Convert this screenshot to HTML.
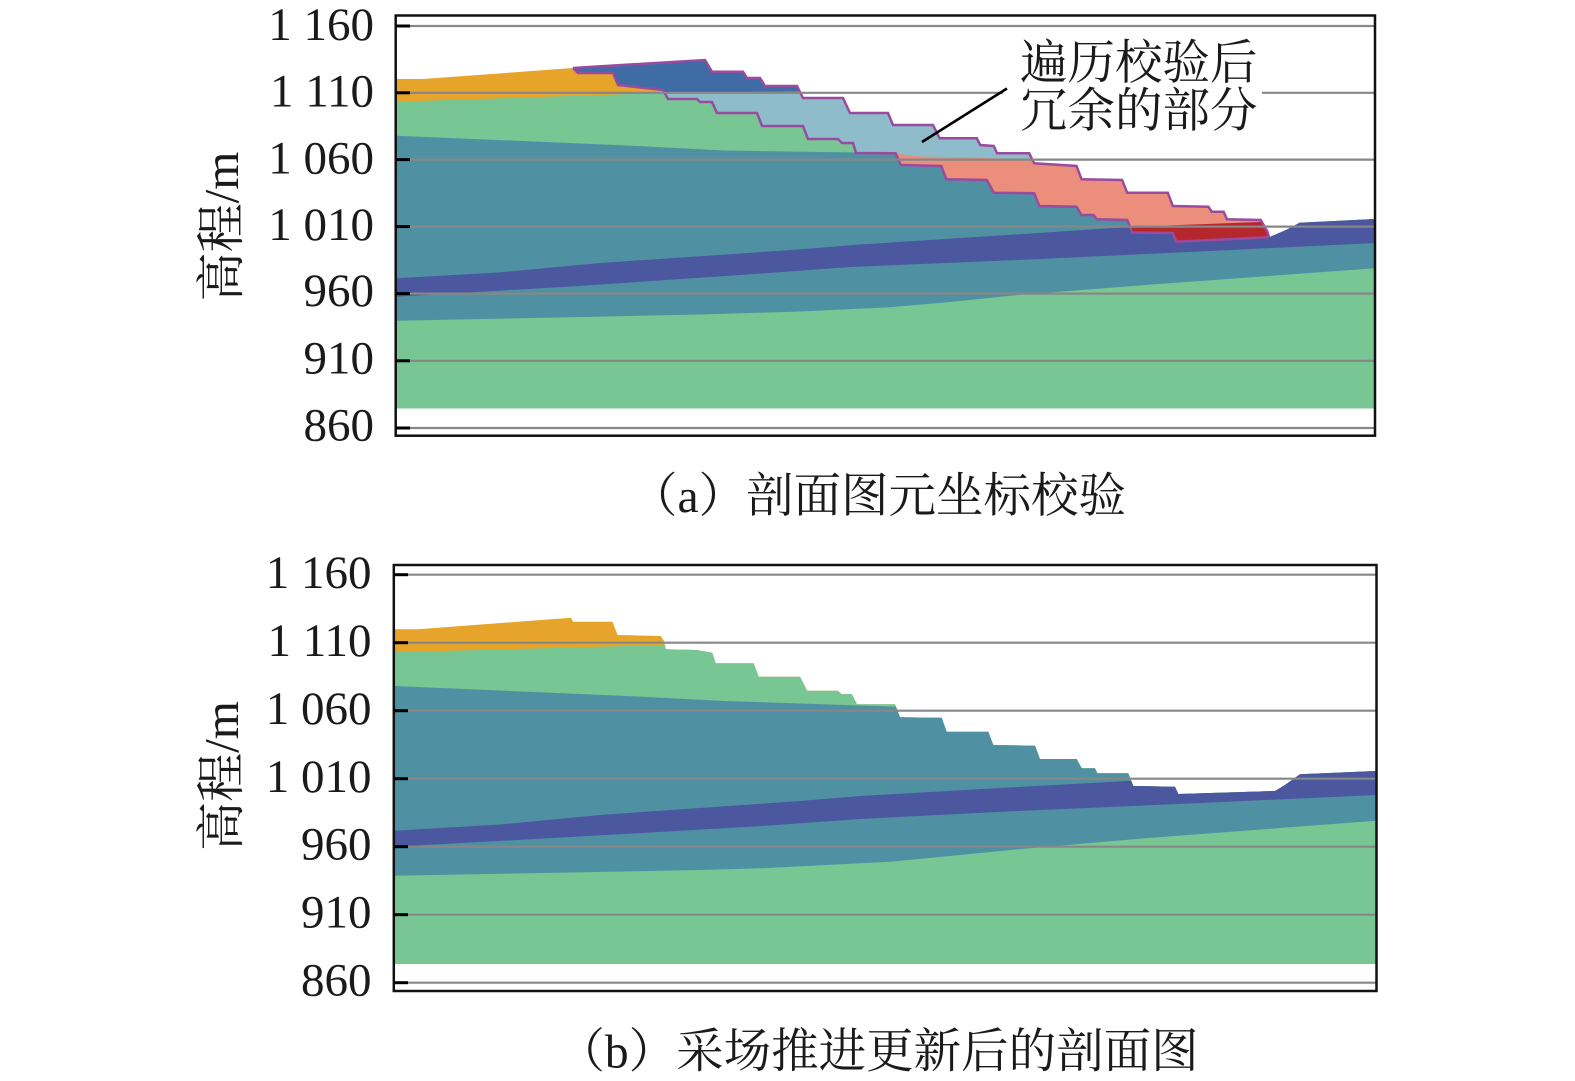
<!DOCTYPE html>
<html><head><meta charset="utf-8"><style>html,body{margin:0;padding:0;background:#fff;}svg{display:block}</style></head>
<body>
<svg width="1575" height="1081" viewBox="0 0 1575 1081" xmlns="http://www.w3.org/2000/svg">
<defs>
<clipPath id="cT"><polygon points="396,79 423,79 573,68 578,73 613,73 618,85 663,90 668,99 697,99 700,102 712,102 717,113 757,113 762,126 803,126 808,139 838,139 842,143 853,143 856,153 895.6,153.3 900.7,165 941.3,166 946.3,179.3 986.9,180 993.7,192.7 1034.2,193.3 1039.3,206 1076.5,206.7 1081.6,215 1093.4,215 1096.8,219.3 1127.2,220 1132.3,232.5 1172.8,233 1176.2,241.7 1269,237.3 1286,230 1299.6,222.7 1375,219 1375,408.5 396,408.5"/></clipPath>
<clipPath id="cR"><polygon points="573,68 705,60 712,71.7 743,71.7 747,78 760,78 765,86 797,86 803,98 843,98 850,113 888,113 893,125 933,125 939.6,138.3 976.8,138.3 980.2,145 993.7,146 997.1,153.3 1029.2,153.3 1034.2,163.3 1076.5,166 1081.6,179.3 1122.1,180 1127.2,192.7 1167.8,192.7 1172.8,206 1208.4,206.7 1211.7,211.7 1223.6,211.7 1227,219.3 1260.7,220 1267.5,231.7 1269,237.3 1176.2,241.7 1172.8,233 1132.3,232.5 1127.2,220 1096.8,219.3 1093.4,215 1081.6,215 1076.5,206.7 1039.3,206 1034.2,193.3 993.7,192.7 986.9,180 946.3,179.3 941.3,166 900.7,165 895.6,153.3 856,153 853,143 842,143 838,139 808,139 803,126 762,126 757,113 717,113 712,102 700,102 697,99 668,99 663,90 618,85 613,73 578,73"/></clipPath>
<clipPath id="cB"><polygon points="394,629.3 418,629.3 571,617.7 573,621.7 612.4,621.7 617.6,635 660.6,636 664,640.7 665.8,649.3 696.8,650 712.3,652.7 715.7,663.3 753.6,663.3 758.8,676.7 800.1,676.7 807.2,690.7 838,690.7 841.6,694 851.8,694 857,704.3 895,704.3 900,717.3 941.7,717.7 946.7,731.7 988.3,731.7 993.3,745 1035,745.7 1040,759 1076.7,759 1081.7,768.3 1095,768.3 1097.3,773.3 1128.3,773.3 1133.3,786 1175,786.7 1178.3,794 1275,791 1285,785 1300,774.3 1376,771 1376,964 394,964"/></clipPath>
</defs>

<!-- TOP CHART -->
<g clip-path="url(#cT)">
<rect x="396" y="0" width="979" height="409" fill="#E6A52A"/>
<polygon fill="#78C694" points="396,101.7 662,93 800,91.5 1375,88 1375,409 396,409"/>
<polygon fill="#4F91A2" points="396,135.7 621,145.2 724,150.5 857,152.5 895,153.5 920,156.5 1030,159 1375,165 1375,409 396,409"/>
<polygon fill="#4B579E" points="396,278.3 500,272.4 600,263 700,256.3 800,249.4 860,244.5 1000,235.5 1128,227 1260,222 1375,217.5 1375,409 396,409"/>
<polygon fill="#4F91A2" points="396,296.7 571,286.5 762,273.5 850,267 1018,260 1200,251.5 1375,243 1375,409 396,409"/>
<polygon fill="#78C694" points="396,320.7 571,317.3 700,314.5 795,311.7 890,307.3 950,302 1018,295 1145,285 1375,268.3 1375,409 396,409"/>
</g>
<g clip-path="url(#cR)">
<rect x="396" y="0" width="979" height="409" fill="#3F6CA5"/>
<polygon fill="#8EBCCA" points="396,101.7 662,93 800,91.5 1375,88 1375,409 396,409"/>
<polygon fill="#EB8E7C" points="396,135.7 621,145.2 724,150.5 857,152.5 895,153.5 920,156.5 1030,159 1375,165 1375,409 396,409"/>
<polygon fill="#B5272D" points="396,278.3 500,272.4 600,263 700,256.3 800,249.4 860,244.5 1000,235.5 1128,227 1260,222 1375,217.5 1375,409 396,409"/>
</g>
<g fill="none" stroke="#9B4B9F" stroke-width="2.5" stroke-linejoin="miter">
<polyline points="573,68 705,60 712,71.7 743,71.7 747,78 760,78 765,86 797,86 803,98 843,98 850,113 888,113 893,125 933,125 939.6,138.3 976.8,138.3 980.2,145 993.7,146 997.1,153.3 1029.2,153.3 1034.2,163.3 1076.5,166 1081.6,179.3 1122.1,180 1127.2,192.7 1167.8,192.7 1172.8,206 1208.4,206.7 1211.7,211.7 1223.6,211.7 1227,219.3 1260.7,220 1267.5,231.7 1269,237.3"/>
<polyline points="573,68 578,73 613,73 618,85 663,90 668,99 697,99 700,102 712,102 717,113 757,113 762,126 803,126 808,139 838,139 842,143 853,143 856,153 895.6,153.3 900.7,165 941.3,166 946.3,179.3 986.9,180 993.7,192.7 1034.2,193.3 1039.3,206 1076.5,206.7 1081.6,215 1093.4,215 1096.8,219.3 1127.2,220 1132.3,232.5 1172.8,233 1176.2,241.7 1269,237.3"/>
</g>
<g stroke="#878787" stroke-width="2.2">
<line x1="396" y1="26" x2="1375" y2="26"/>
<line x1="396" y1="92.8" x2="1375" y2="92.8"/>
<line x1="396" y1="159.6" x2="1375" y2="159.6"/>
<line x1="396" y1="226.6" x2="1375" y2="226.6"/>
<line x1="396" y1="293.6" x2="1375" y2="293.6"/>
<line x1="396" y1="360.8" x2="1375" y2="360.8"/>
<line x1="396" y1="428" x2="1375" y2="428"/>
</g>
<rect x="1003" y="34" width="259" height="102" fill="#fff"/>
<g font-family="'Liberation Serif','Noto Serif CJK SC',serif" font-size="47.5" fill="#1a1a1a">
<text x="1020" y="79">遍历校验后</text>
<text x="1020" y="127">冗余的部分</text>
</g>
<line x1="922" y1="142" x2="1007" y2="88.5" stroke="#000" stroke-width="2.6"/>
<rect x="395.7" y="15.5" width="979.3" height="420.2" fill="none" stroke="#111" stroke-width="2.5"/>
<g stroke="#000" stroke-width="3">
<line x1="396" y1="26" x2="410" y2="26"/>
<line x1="396" y1="92.8" x2="410" y2="92.8"/>
<line x1="396" y1="159.6" x2="410" y2="159.6"/>
<line x1="396" y1="226.6" x2="410" y2="226.6"/>
<line x1="396" y1="293.6" x2="410" y2="293.6"/>
<line x1="396" y1="360.8" x2="410" y2="360.8"/>
<line x1="396" y1="428" x2="410" y2="428"/>
</g>
<g font-family="'Liberation Serif','Noto Serif CJK SC',serif" font-size="47" fill="#1a1a1a" text-anchor="end" word-spacing="0">
<text x="374" y="40">1 160</text>
<text x="374" y="106.7">1 110</text>
<text x="374" y="173.3">1 060</text>
<text x="374" y="240">1 010</text>
<text x="374" y="306">960</text>
<text x="374" y="373.5">910</text>
<text x="374" y="440.5">860</text>
</g>
<text transform="translate(238,226.5) rotate(-90)" text-anchor="middle" font-family="'Liberation Serif','Noto Serif CJK SC',serif" font-size="49" fill="#1a1a1a">高程/m</text>
<text x="878" y="512" text-anchor="middle" font-family="'Liberation Serif','Noto Serif CJK SC',serif" font-size="47.5" fill="#1a1a1a">（a）剖面图元坐标校验</text>

<!-- BOTTOM CHART -->
<g clip-path="url(#cB)">
<rect x="394" y="560" width="982" height="404" fill="#E6A52A"/>
<polygon fill="#78C694" points="394,652.3 662.4,645 800,643.5 1376,640 1376,964 394,964"/>
<polygon fill="#4F91A2" points="394,686 621,695.7 724.4,701 896.5,706.7 1040,710 1376,716 1376,964 394,964"/>
<polygon fill="#4B579E" points="394,830.7 500,824.5 600,815 700,808 800,801 860,796 1000,788 1128,781 1260,775 1376,769 1376,964 394,964"/>
<polygon fill="#4F91A2" points="394,846.7 571,837 762,826 860,819 1018,811 1200,803 1376,795 1376,964 394,964"/>
<polygon fill="#78C694" points="394,875.7 571,872.5 700,870 762.6,868.3 890,861.7 950,856 1017.8,849.3 1145,838.3 1376,820.7 1376,964 394,964"/>
</g>
<g stroke="#878787" stroke-width="2.2">
<line x1="394" y1="574.7" x2="1376" y2="574.7"/>
<line x1="394" y1="642.7" x2="1376" y2="642.7"/>
<line x1="394" y1="710.7" x2="1376" y2="710.7"/>
<line x1="394" y1="778.7" x2="1376" y2="778.7"/>
<line x1="394" y1="846.7" x2="1376" y2="846.7"/>
<line x1="394" y1="914.7" x2="1376" y2="914.7"/>
<line x1="394" y1="982.7" x2="1376" y2="982.7"/>
</g>
<rect x="393.8" y="565" width="982.7" height="426" fill="none" stroke="#111" stroke-width="2.5"/>
<g stroke="#000" stroke-width="3">
<line x1="394" y1="574.7" x2="408" y2="574.7"/>
<line x1="394" y1="642.7" x2="408" y2="642.7"/>
<line x1="394" y1="710.7" x2="408" y2="710.7"/>
<line x1="394" y1="778.7" x2="408" y2="778.7"/>
<line x1="394" y1="846.7" x2="408" y2="846.7"/>
<line x1="394" y1="914.7" x2="408" y2="914.7"/>
<line x1="394" y1="982.7" x2="408" y2="982.7"/>
</g>
<g font-family="'Liberation Serif','Noto Serif CJK SC',serif" font-size="47" fill="#1a1a1a" text-anchor="end" word-spacing="0">
<text x="371.5" y="588">1 160</text>
<text x="371.5" y="656">1 110</text>
<text x="371.5" y="724">1 060</text>
<text x="371.5" y="792">1 010</text>
<text x="371.5" y="859.5">960</text>
<text x="371.5" y="927.5">910</text>
<text x="371.5" y="995.5">860</text>
</g>
<text transform="translate(238,776) rotate(-90)" text-anchor="middle" font-family="'Liberation Serif','Noto Serif CJK SC',serif" font-size="49" fill="#1a1a1a">高程/m</text>
<text x="878" y="1067.5" text-anchor="middle" font-family="'Liberation Serif','Noto Serif CJK SC',serif" font-size="47.5" fill="#1a1a1a">（b）采场推进更新后的剖面图</text>
</svg>
</body></html>
